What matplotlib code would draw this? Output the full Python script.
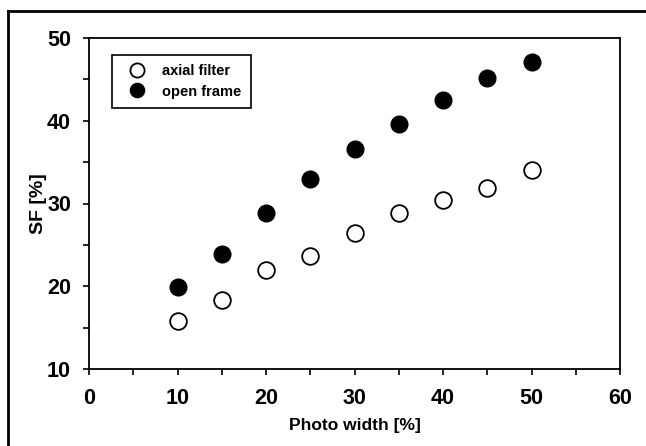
import matplotlib.pyplot as plt
from matplotlib.lines import Line2D
from matplotlib.ticker import MultipleLocator

# data
photo_width = [10, 15, 20, 25, 30, 35, 40, 45, 50]
axial_filter = [15.8, 18.3, 22.0, 23.7, 26.4, 28.8, 30.4, 31.9, 34.1]
open_frame = [19.9, 23.9, 28.8, 33.0, 36.6, 39.6, 42.5, 45.2, 47.1]

plt.rcParams['font.family'] = ['Liberation Sans', 'DejaVu Sans']

fig = plt.figure(figsize=(6.46, 4.46), dpi=100)
ax = fig.add_axes([89 / 646, 1 - 369 / 446, (620 - 89) / 646, (369 - 38) / 446])

ax.plot(photo_width, axial_filter, 'o', ms=12, mfc='white', mec='black', mew=1.3,
        label='axial filter', clip_on=False)
ax.plot(photo_width, open_frame, 'o', ms=12, mfc='black', mec='black',
        label='open frame', clip_on=False)

ax.set_xlim(0, 60)
ax.set_ylim(10, 50)
ax.xaxis.set_major_locator(MultipleLocator(10))
ax.xaxis.set_minor_locator(MultipleLocator(5))
ax.yaxis.set_major_locator(MultipleLocator(10))
ax.yaxis.set_minor_locator(MultipleLocator(5))
ax.tick_params(which='both', direction='out', length=4, width=1.2)
ax.tick_params(axis='both', labelsize=15.5)
ax.tick_params(axis='x', pad=10)
ax.tick_params(axis='y', pad=9)
for lab in ax.get_xticklabels() + ax.get_yticklabels():
    lab.set_fontweight('bold')
for s in ax.spines.values():
    s.set_linewidth(1.3)

ax.set_xlabel('Photo width [%]', fontsize=12.5, fontweight='bold')
ax.set_ylabel('SF [%]', fontsize=14, fontweight='bold')
ax.xaxis.set_label_coords(0.5, -0.148)
ax.yaxis.set_label_coords(-0.08, 0.5)

leg = ax.legend(loc='upper left', bbox_to_anchor=(0.043, 0.95), borderaxespad=0,
                fancybox=False, edgecolor='black', framealpha=1,
                prop={'size': 10.5, 'weight': 'bold'},
                handletextpad=0.7, borderpad=0.65, labelspacing=0.45, markerscale=0.85,
                handlelength=2.1)
leg.get_frame().set_linewidth(1.2)

# frame lines of the scanned page (top and left)
fig.add_artist(Line2D([8 / 646, 8 / 646], [0, 1 - 11 / 446], color='black', lw=2,
                      transform=fig.transFigure))
fig.add_artist(Line2D([8 / 646, 1], [1 - 11 / 446, 1 - 11 / 446], color='black', lw=2,
                      transform=fig.transFigure))

fig.savefig('out.png', dpi=100)
